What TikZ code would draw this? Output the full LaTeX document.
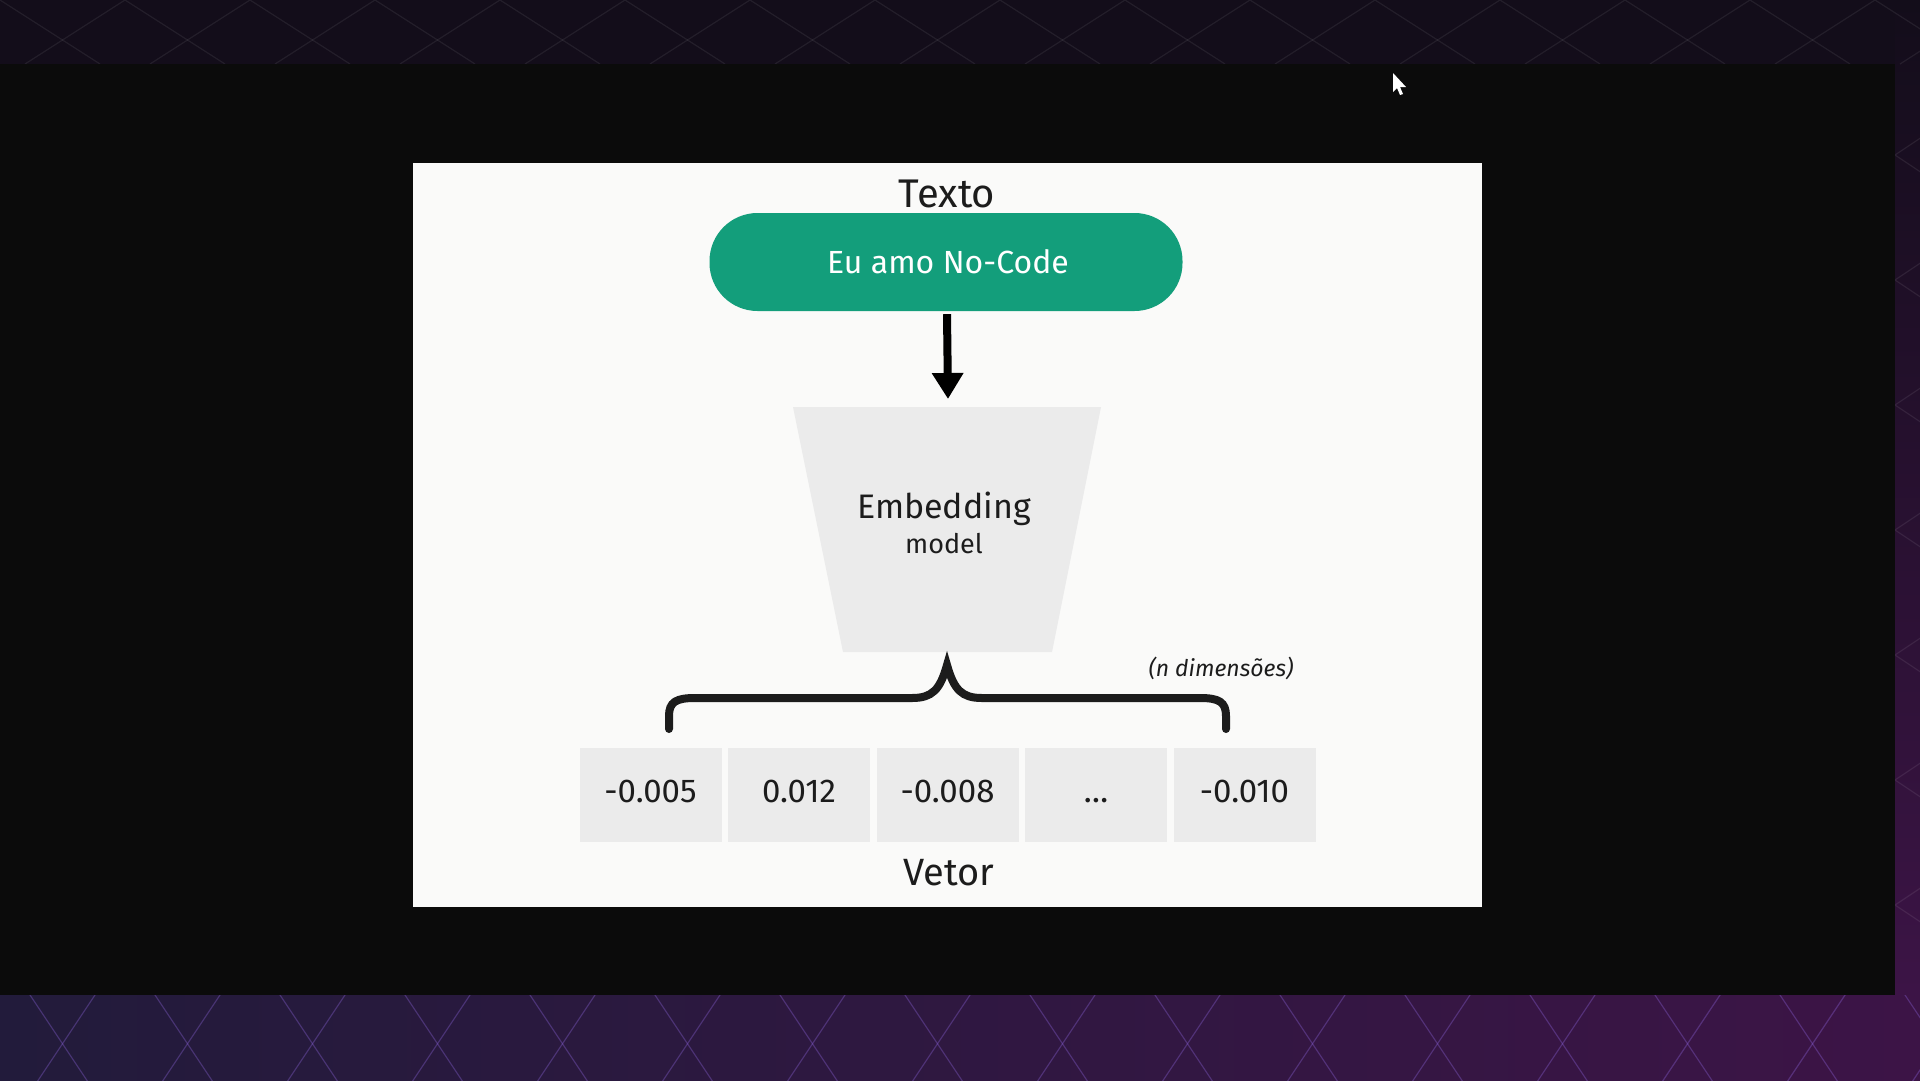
\documentclass[tikz,border=0pt]{standalone}
\usepackage{fontspec}
\setmainfont{Fira Sans}
\usepackage{tikz}
\usetikzlibrary{arrows.meta}

\definecolor{bgtop}{HTML}{130D1A}
\definecolor{bgleft}{HTML}{221B3B}
\definecolor{bgright}{HTML}{3C1446}
\definecolor{frame}{HTML}{0B0B0B}
\definecolor{panel}{HTML}{FAFAF9}
\definecolor{nocode}{HTML}{139E7B}
\definecolor{cellgray}{HTML}{EBEBEB}
\definecolor{ink}{HTML}{1C1C1C}

\begin{document}
\begin{tikzpicture}[x=1pt, y=-1pt,
    cell/.style={fill=cellgray, minimum width=142pt, minimum height=94pt, inner sep=0pt},
    celltext/.style={font=\fontsize{33}{38}\selectfont, text=ink, anchor=base},
    arr/.style={draw, line width=8pt, -{Triangle[width=30pt,length=26pt]}}]
    \useasboundingbox (0,0) rectangle (1920,1080);

    % background with lattice
    \fill[bgtop] (0,0) rectangle (1920,1080);
    \fill[top color=bgtop, bottom color=bgright] (1895,0) rectangle (1920,995);
    \fill[left color=bgleft, right color=bgright] (0,995) rectangle (1920,1080);
    \begin{scope}
        \clip (0,0) rectangle (1920,64);
        \foreach \i in {-2,...,17}
            \draw[draw=white, opacity=.07, line width=1.2pt] (\i*125,0) -- ++(100,64) (\i*125,0) -- ++(-100,64);
    \end{scope}
    \begin{scope}
        \clip (1895,64) rectangle (1920,995);
        \foreach \i in {0,...,8}
            \draw[draw=white, opacity=.08, line width=1.2pt] (1850,\i*125) -- ++(90,60) (1850,\i*125+60) -- ++(90,-60);
    \end{scope}
    \begin{scope}
        \clip (0,995) rectangle (1920,1080);
        \foreach \i in {-3,...,17}
            \draw[draw={rgb,255:red,140;green,100;blue,220}, opacity=.35, line width=1.2pt] (\i*125,950) -- ++(100,150) (\i*125,950) -- ++(-100,150);
    \end{scope}
    \fill[frame] (0,64) rectangle (1895,995);
    \fill[white] (1393,73) -- (1393,92) -- (1397,88) -- (1400,95) -- (1403,94) -- (1400,87) -- (1406,87) -- cycle;

    % slide
    \fill[panel] (413,163) rectangle (1482,907);

    \node[text=ink, font=\fontsize{40}{46}\selectfont, anchor=base] (texto) at (947,207) {Texto};
    \node[fill=nocode, rounded corners=48pt, minimum width=473pt, minimum height=98pt] (input) at (946,262) {};
    \node[text=white, font=\fontsize{32}{37}\selectfont, anchor=base] (inputtext) at (948,273) {Eu amo No-Code};

    \fill[cellgray] (793,407) -- (1101,407) -- (1052,652) -- (843,652) -- cycle;
    \coordinate (modeltop) at (948,399);
    \node[text=ink, font=\fontsize{34}{40}\selectfont, anchor=base] (embtext) at (944,518) {Embedding};
    \node[text=ink, font=\fontsize{27}{32}\selectfont, anchor=base] (modeltext) at (944,553) {model};

    \draw[arr] ([xshift=1pt,yshift=-3pt]input.south) -- (modeltop);

    % brace
    \draw[ink, line width=8pt, line cap=round, line join=miter]
        (669,729) -- (669,716) .. controls (669,702) and (676,698) .. (695,698) -- (912,698)
        .. controls (932,698) and (940,690) .. (947,665)
        .. controls (954,690) and (962,698) .. (982,698) -- (1200,698)
        .. controls (1219,698) and (1226,702) .. (1226,716) -- (1226,729);
    \node[text=ink, font=\fontsize{23}{28}\selectfont\itshape, anchor=base] (ndim) at (1221,676) {(n dimensões)};

    % vector cells
    \foreach \v [count=\k] in {-0.005, 0.012, -0.008, {\ldots}, -0.010} {
        \node[cell] (cell\k) at (650.5+148.5*\k-148.5,795) {};
        \node[celltext] at ([yshift=-7pt]cell\k.center) {\v};
    }
    \node[text=ink, font=\fontsize{38}{44}\selectfont, anchor=base] (vetor) at (949,885) {Vetor};
\end{tikzpicture}
\end{document}
